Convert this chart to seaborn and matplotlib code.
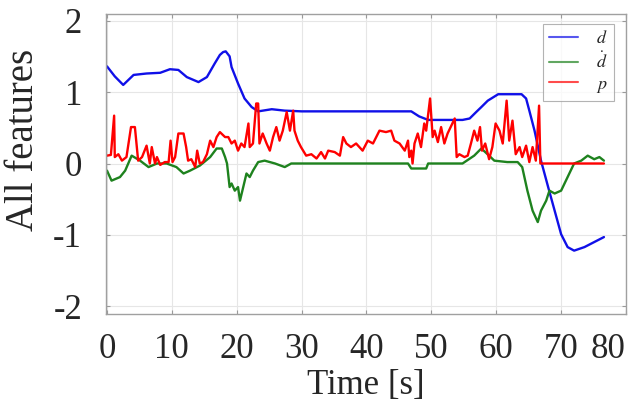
import numpy as np
import pandas as pd
import matplotlib
matplotlib.use("Agg")
import matplotlib.pyplot as plt
import seaborn as sns

# ---- data ----
t_d = [0, 1.2, 2.5, 4.1, 6.1, 8.2, 9.7, 11.0, 12.3, 14.1, 15.4, 16.6, 17.4, 17.9, 18.3, 18.9,
       19.2, 20.2, 21.2, 22.3, 23.3, 25.4, 27.4, 30, 35, 40, 46.9, 48.1, 49.5, 54.8, 55.9,
       56.9, 57.7, 58.7, 60.3, 63.9, 64.6, 65.1, 65.9, 66.9, 68.0, 69.0, 70.0, 71.0, 72.0,
       73.6, 75.1, 76.6]
d = [1.36, 1.22, 1.10, 1.24, 1.26, 1.27, 1.32, 1.31, 1.21, 1.14, 1.21, 1.40, 1.52, 1.56, 1.57, 1.50,
     1.35, 1.12, 0.91, 0.79, 0.73, 0.76, 0.74, 0.73, 0.73, 0.73, 0.73, 0.66, 0.61, 0.61, 0.63,
     0.72, 0.79, 0.88, 0.97, 0.97, 0.91, 0.74, 0.46, 0.04, -0.33, -0.66, -0.99, -1.17, -1.22,
     -1.17, -1.10, -1.03]

t_dd = [0, 0.7, 2.0, 2.8, 3.8, 5.1, 6.4, 7.7, 9.2, 10.7, 11.8, 12.8, 14.3, 15.9, 16.9, 17.7,
        18.2, 18.5, 18.9, 19.2, 19.7, 20.2, 20.5, 21.0, 21.5, 22.0, 22.5, 23.3, 24.3, 25.9,
        27.4, 28.4, 35, 40, 46.4, 46.9, 49.2, 49.5, 54.8, 56.6, 57.7, 58.9, 59.7, 61.7, 63.3,
        64.0, 64.8, 65.6, 66.4, 66.9, 67.7, 68.2, 69.0, 70.0, 71.0, 72.0, 73.1, 74.1, 75.1,
        75.9, 76.6]
dd = [-0.10, -0.24, -0.19, -0.10, 0.11, 0.04, -0.05, 0.0, 0.0, -0.05, -0.14, -0.10, -0.03, 0.09, 0.21, 0.21,
      0.09, 0.0, -0.33, -0.28, -0.38, -0.33, -0.52, -0.33, -0.14, -0.19, -0.10, 0.02, 0.04, 0.0,
      -0.05, 0.0, 0.0, 0.0, 0.0, -0.07, -0.07, 0.0, 0.0, 0.11, 0.21, 0.11, 0.04, 0.02, 0.02,
      -0.05, -0.38, -0.66, -0.82, -0.66, -0.52, -0.38, -0.42, -0.38, -0.19, 0.0, 0.04, 0.11, 0.06,
      0.09, 0.04]

t_p = [0.0, 0.6, 1.1, 1.2, 1.75, 2.3, 3.0, 3.7, 4.3, 4.8, 5.4, 6.1, 6.6, 6.9, 7.4, 7.7, 8.2, 8.9,
       9.5, 9.8, 10.1, 10.5, 11.0, 11.8, 12.2, 12.5, 13.0, 13.6, 13.9, 14.3, 14.8, 15.4, 15.9,
       16.4, 16.9, 17.4, 18.2, 18.7, 19.2, 19.7, 20.2, 20.7, 21.2, 21.8, 22.0, 22.5, 23.0, 23.3,
       23.5, 24.0, 24.6, 25.1, 25.6, 26.1, 26.6, 27.1, 27.7, 28.2, 28.7, 28.9, 29.4, 29.9, 30.7,
       31.5, 32.3, 33.0, 33.6, 34.1, 35.1, 35.9, 36.4, 36.9, 37.6, 38.4, 39.4, 40.2, 41.0, 42.0,
       43.0, 43.8, 44.3, 45.1, 45.9, 46.4, 46.6, 46.9, 47.1, 47.4, 47.9, 48.4, 48.9, 49.2, 49.8,
       50.2, 50.5, 51.0, 51.5, 52.0, 52.5, 53.6, 53.9, 54.3, 55.1, 55.6, 56.1, 56.6, 57.1, 57.5,
       57.8, 58.3, 58.9, 59.4, 59.9, 60.5, 61.0, 61.6, 62.0, 62.5, 63.0, 63.6, 64.0, 64.6, 65.1,
       65.6, 66.1, 66.6, 66.8, 70, 76.6]
p = [0.11, 0.12, 0.67, 0.09, 0.13, 0.04, 0.09, 0.51, 0.51, 0.04, 0.09, 0.25, 0.0, 0.23, 0.0, 0.09, -0.02, 0.02,
     0.02, 0.32, 0.02, 0.09, 0.42, 0.42, 0.23, 0.04, 0.06, -0.05, 0.18, 0.0, 0.02, 0.13, 0.32,
     0.23, 0.37, 0.44, 0.37, 0.37, 0.28, 0.32, 0.18, 0.28, 0.23, 0.56, 0.23, 0.28, 0.84, 0.84,
     0.28, 0.42, 0.28, 0.18, 0.37, 0.51, 0.32, 0.46, 0.72, 0.46, 0.74, 0.46, 0.32, 0.23, 0.11,
     0.13, 0.07, 0.16, 0.07, 0.18, 0.16, 0.11, 0.37, 0.28, 0.23, 0.28, 0.18, 0.32, 0.28, 0.46,
     0.44, 0.46, 0.32, 0.28, 0.18, 0.32, 0.09, 0.18, 0.0, 0.28, 0.42, 0.23, 0.56, 0.46, 0.91,
     0.37, 0.46, 0.30, 0.51, 0.28, 0.42, 0.63, 0.09, 0.13, 0.09, 0.11, 0.28, 0.46, 0.32, 0.51,
     0.18, 0.28, 0.06, 0.23, 0.56, 0.46, 0.28, 0.88, 0.32, 0.60, 0.13, 0.23, 0.09, 0.25, 0.02,
     0.23, 0.04, 0.81, 0.0, 0.0, 0.0]

labels = [r"$d$", r"$\dot{d}$", r"$p$"]
colors = ["#1010e8", "#1e821e", "#ff0000"]
x_ticks = [0, 10, 20, 30, 40, 50, 60, 70, 80]
y_ticks = [-2, -1, 0, 1, 2]

# ---- style ----
sns.set_style("whitegrid")
plt.rcParams["font.family"] = ["Liberation Serif", "DejaVu Serif"]
plt.rcParams["mathtext.fontset"] = "stix"

fig = plt.figure(figsize=(6.35, 4.08), dpi=100)
ax = fig.add_axes([105.7 / 635, 1 - 313.5 / 408, (626 - 105.7) / 635, 300 / 408])

for tx, vals, lab, col in zip([t_d, t_dd, t_p], [d, dd, p], labels, colors):
    df = pd.DataFrame({"t": tx, "v": vals})
    sns.lineplot(data=df, x="t", y="v", ax=ax, color=col, linewidth=1.7, label=lab,
                 estimator=None, sort=False)

ax.set_xlim(-0.2, 80)
ax.set_ylim(-2.1, 2.1)
ax.set_xticks(x_ticks)
ax.set_yticks(y_ticks)
ax.set_xticklabels([str(v) for v in x_ticks])
ax.set_yticklabels([str(v) for v in y_ticks])
ax.xaxis.get_ticklabels()[-1].set_horizontalalignment("right")
ax.set_xlabel("Time [s]", fontsize=25)
ax.set_ylabel("All features", fontsize=28)
ax.xaxis.set_label_coords(0.5, -0.185)
ax.yaxis.set_label_coords(-0.122, 0.58)
ax.tick_params(axis="both", labelsize=25, direction="in", length=3, width=0.8,
               color="#9a9a9a", top=True, right=True, bottom=True, left=True)
ax.tick_params(axis="x", pad=14)
ax.tick_params(axis="y", pad=17)
ax.grid(True, color="#e6e6e6", linewidth=0.8)
for s in ax.spines.values():
    s.set_color("#a0a0a0")
    s.set_linewidth(1.0)

leg = ax.legend(loc="upper right", bbox_to_anchor=(0.977, 0.965), borderaxespad=0,
                fontsize=13, frameon=True, fancybox=False, handlelength=1.6,
                handletextpad=1.0, borderpad=0.35, labelspacing=0.2)
leg.get_frame().set_edgecolor("#a0a0a0")
leg.get_frame().set_linewidth(0.8)
for h in leg.get_lines():
    h.set_linewidth(1.5)
    h.set_alpha(0.7)

fig.savefig("out.png", dpi=100)
